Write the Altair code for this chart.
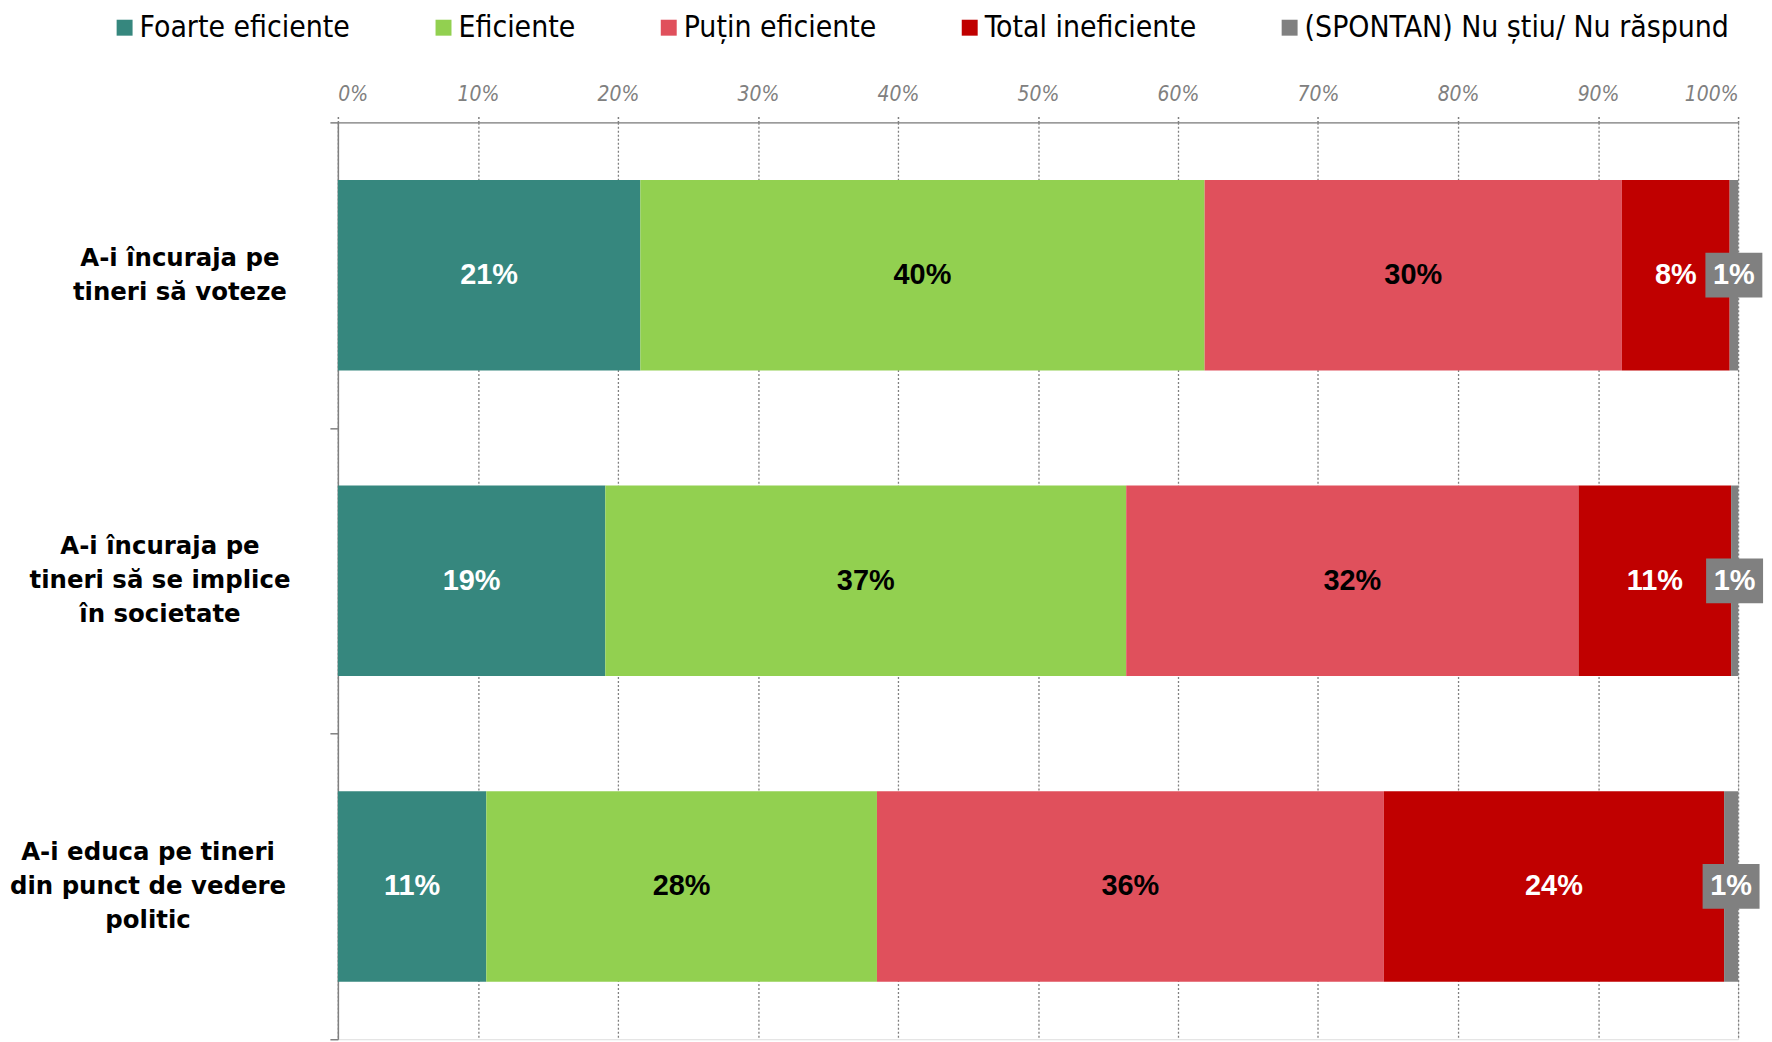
import altair as alt
import pandas as pd

categories = [
    "A-i încuraja pe\ntineri să voteze",
    "A-i încuraja pe\ntineri să se implice\nîn societate",
    "A-i educa pe tineri\ndin punct de vedere\npolitic",
]
series = [
    "Foarte eficiente",
    "Eficiente",
    "Puțin eficiente",
    "Total ineficiente",
    "(SPONTAN) Nu știu/ Nu răspund",
]
colors = ["#36877E", "#92D050", "#E0505C", "#C00000", "#808080"]

foarte = [21.6, 19.1, 10.6]
eficiente = [40.3, 37.2, 27.9]
putin = [29.8, 32.3, 36.2]
total = [7.7, 10.9, 24.3]
nu_stiu = [0.6, 0.5, 1.0]

lbl_foarte = ["21%", "19%", "11%"]
lbl_eficiente = ["40%", "37%", "28%"]
lbl_putin = ["30%", "32%", "36%"]
lbl_total = ["8%", "11%", "24%"]
lbl_nu_stiu = ["1%", "1%", "1%"]

x_ticks = [0, 10, 20, 30, 40, 50, 60, 70, 80, 90, 100]

values = [foarte, eficiente, putin, total, nu_stiu]
labels = [lbl_foarte, lbl_eficiente, lbl_putin, lbl_total, lbl_nu_stiu]

rows = []
for ci, cat in enumerate(categories):
    start = 0.0
    for si, s in enumerate(series):
        v = values[si][ci]
        rows.append({
            "category": cat,
            "series": s,
            "order": si,
            "start": start,
            "end": start + v,
            "mid": start + v / 2,
            "label": labels[si][ci],
        })
        start += v
df = pd.DataFrame(rows)

GRAY = "#808080"
NARROW = "DejaVu Sans Condensed, sans-serif"

y_scale = alt.Scale(paddingInner=0, paddingOuter=0)


def y_axis(keyword, padding, voffset, visible_lines):
    return alt.Axis(
        orient="left",
        title=None,
        labelExpr=(
            "indexof(datum.label, '" + keyword + "') >= 0 ? "
            "split(datum.label, '\\n') : ''"
        ),
        labelFont="DejaVu Sans",
        labelFontWeight="bold",
        labelFontSize=24.5,
        labelLineHeight=34,
        labelColor="black",
        labelAlign="center",
        labelBaseline="middle",
        labelLimit=500,
        labelPadding=padding,
        labelOffset=voffset,
        tickBand="extent",
        tickSize=8,
        tickColor=GRAY,
        tickWidth=1.5,
        tickOpacity=1 if visible_lines else 0,
        domainColor=GRAY,
        domainWidth=1.5,
        domainOpacity=1 if visible_lines else 0,
        grid=False,
        minExtent=331,
        maxExtent=331,
    )


x_scale = alt.Scale(domain=[0, 100], nice=False)

bars = alt.Chart(df).mark_bar(height={"band": 0.623}).encode(
    x=alt.X(
        "start:Q",
        scale=x_scale,
        axis=alt.Axis(
            orient="top",
            title=None,
            values=x_ticks,
            labelExpr="datum.value + '%'",
            labelFont=NARROW,
            labelFontStyle="italic",
            labelFontSize=21,
            labelColor=GRAY,
            labelPadding=11,
            tickSize=7,
            tickColor=GRAY,
            tickWidth=1.5,
            tickDash=[2, 2],
            domainColor=GRAY,
            domainWidth=1.5,
            grid=True,
            gridColor=GRAY,
            gridDash=[2, 2],
            gridWidth=1.3,
        ),
    ),
    x2="end:Q",
    y=alt.Y("category:N", sort=categories, scale=y_scale,
            axis=y_axis("voteze", 151, -17, True)),
    color=alt.Color(
        "series:N",
        sort=series,
        scale=alt.Scale(domain=series, range=colors),
        legend=alt.Legend(
            title=None,
            orient="none",
            legendX=-229,
            legendY=-110,
            direction="horizontal",
            symbolType="square",
            symbolSize=256,
            symbolStrokeWidth=0,
            labelFont="DejaVu Sans Condensed, sans-serif",
            labelFontSize=30,
            labelColor="black",
            labelOffset=0,
            columnPadding=78,
            labelLimit=600,
        ),
    ),
    order=alt.Order("order:Q"),
)

main_df_filter = "datum.series != '(SPONTAN) Nu știu/ Nu răspund'"
dk_filter = "datum.series == '(SPONTAN) Nu știu/ Nu răspund'"

LABEL_FONT = "Liberation Sans, Arial, sans-serif"

text = alt.Chart(df).transform_filter(main_df_filter).mark_text(
    font=LABEL_FONT,
    fontWeight="bold",
    fontSize=29,
    align="center",
    baseline="middle",
).encode(
    x=alt.X("mid:Q", scale=x_scale),
    y=alt.Y("category:N", sort=categories, scale=y_scale,
            axis=y_axis("societate", 171, -34, False)),
    text="label:N",
    color=alt.condition(
        "datum.series == 'Eficiente' || datum.series == 'Puțin eficiente'",
        alt.value("black"),
        alt.value("white"),
    ),
)

dk_box = alt.Chart(df).transform_filter(dk_filter).mark_point(
    shape="M-1.27,-1H1.27V1H-1.27Z",
    size=2025,
    filled=True,
    opacity=1,
    color=GRAY,
).encode(
    x=alt.X("mid:Q", scale=x_scale),
    y=alt.Y("category:N", sort=categories, scale=y_scale, axis=None),
)

dk_text = alt.Chart(df).transform_filter(dk_filter).mark_text(
    font=LABEL_FONT,
    fontWeight="bold",
    fontSize=29,
    align="center",
    baseline="middle",
    color="white",
).encode(
    x=alt.X("mid:Q", scale=x_scale),
    y=alt.Y("category:N", sort=categories, scale=y_scale,
            axis=y_axis("politic", 183, -34, False)),
    text="label:N",
)

chart = (
    alt.layer(bars, text, dk_box, dk_text)
    .resolve_axis(y="independent")
    .properties(
        width=1405,
        height=920,
        padding={"top": 3, "left": 0, "right": 0, "bottom": 0},
    )
    .configure_view(stroke=None)
    .configure(background="white")
)

chart.save("out.html", embed_options={"renderer": "svg", "actions": False})
